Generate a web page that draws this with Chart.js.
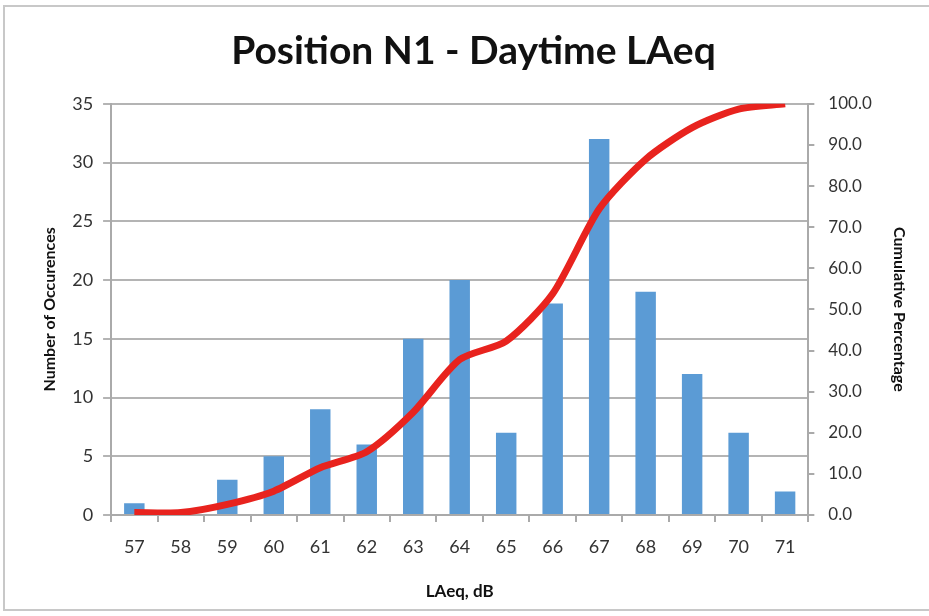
<!DOCTYPE html>
<html>
<head>
<meta charset="utf-8">
<script src="https://cdn.jsdelivr.net/npm/chart.js@4"></script>
<style>
  html, body { margin: 0; padding: 0; background: #fff; }
  #wrap { width: 929px; height: 616px; position: relative; }
</style>
</head>
<body>
<div id="wrap"><canvas id="chart" width="929" height="616"></canvas></div>
<script>
const levels = ['57', '58', '59', '60', '61', '62', '63', '64', '65', '66', '67', '68', '69', '70', '71'];
const occurrences = [1, 0, 3, 5, 9, 6, 15, 20, 7, 18, 32, 19, 12, 7, 2];
const cumulativePct = [0.6, 0.6, 2.6, 5.8, 11.5, 15.4, 25.0, 37.8, 42.3, 53.8, 74.4, 86.5, 94.2, 98.7, 100.0];

const frame = {
    id: 'frame',
    beforeDraw(chart) {
        const ctx = chart.ctx;
        ctx.save();
        ctx.fillStyle = '#fff';
        ctx.fillRect(0, 0, chart.width, chart.height);
        ctx.strokeStyle = '#c8c8c8';
        ctx.lineWidth = 2;
        ctx.strokeRect(4, 6, chart.width + 10, chart.height - 12);
        ctx.restore();
    }
};

const ctx = document.getElementById('chart').getContext('2d');
new Chart(ctx, {
    data: {
        labels: levels,
        datasets: [
            {
                type: 'line',
                label: 'Cumulative Percentage',
                data: cumulativePct,
                yAxisID: 'y1',
                borderColor: '#e8231e',
                borderWidth: 7,
                pointRadius: 0,
                tension: 0.25,
                order: 0
            },
            {
                type: 'bar',
                label: 'Number of Occurences',
                data: occurrences,
                yAxisID: 'y',
                backgroundColor: '#5b9bd5',
                barPercentage: 0.44,
                categoryPercentage: 1.0,
                order: 1
            }
        ]
    },
    options: {
        responsive: false,
        animation: false,
        layout: { padding: { left: 20, right: 2, top: 8, bottom: 10 } },
        plugins: {
            legend: { display: false },
            tooltip: { enabled: false },
            title: {
                display: true,
                text: 'Position N1 - Daytime LAeq',
                color: '#111',
                font: { family: 'Lato', size: 39, weight: 'bold' },
                padding: { top: 20, bottom: 29 }
            }
        },
        scales: {
            x: {
                grid: { display: true, drawOnChartArea: false, offset: true, tickLength: 7, color: '#aaa', lineWidth: 2 },
                border: { color: '#aaa', width: 2 },
                ticks: { color: '#333', font: { family: 'Lato', size: 18 }, padding: 14 },
                title: { display: true, text: 'LAeq, dB', color: '#111', font: { family: 'Lato', size: 17, weight: 'bold' }, padding: { top: 10 } }
            },
            y: {
                position: 'left',
                min: 0,
                max: 35,
                ticks: { stepSize: 5, color: '#333', font: { family: 'Lato', size: 18 }, padding: 10 },
                grid: { color: '#b4b4b4', lineWidth: 2, tickLength: 8 },
                border: { color: '#aaa', width: 2 },
                title: { display: true, text: 'Number of Occurences', color: '#111', font: { family: 'Lato', size: 16, weight: 'bold' }, padding: { top: 20, bottom: 3 } }
            },
            y1: {
                position: 'right',
                min: 0,
                max: 100,
                ticks: {
                    stepSize: 10,
                    color: '#333',
                    font: { family: 'Lato', size: 17 },
                    padding: 14,
                    callback: v => v.toFixed(1)
                },
                grid: { drawOnChartArea: false, color: '#aaa', lineWidth: 2, tickLength: 6 },
                border: { color: '#aaa', width: 2 },
                title: { display: true, text: 'Cumulative Percentage', color: '#111', font: { family: 'Lato', size: 16, weight: 'bold' }, padding: { top: 18 } }
            }
        }
    },
    plugins: [frame]
});
</script>
</body>
</html>
